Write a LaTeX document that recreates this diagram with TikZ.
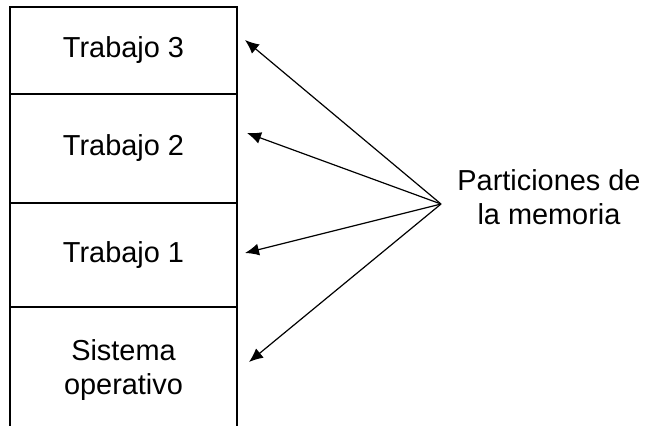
\documentclass[tikz,border=0pt]{standalone}
\usepackage{fontspec}
\setmainfont{Liberation Sans}
\usetikzlibrary{positioning,arrows.meta}

\begin{document}
\begin{tikzpicture}[
		x=0.5pt, y=-0.5pt,
		every node/.style={
			align=center,
			font=\fontsize{14.45}{17}\selectfont
		},
		particion/.style={
			draw, line width=1pt, rectangle,
			minimum width=113.5pt,
			inner sep=0pt, outer sep=0pt
		},
		flecha/.style={-{Latex[length=7pt,width=6pt]}, line width=0.6pt}
		]
		
		\useasboundingbox (0,0) rectangle (646,425);
		\clip (0,0) rectangle (646,425);
		
		% bloques de la memoria
		\node[particion, minimum height=43.5pt, anchor=north west] (trabajo3) at (10,7) {Trabajo 3};
		\node[particion, minimum height=54.5pt, below=0pt of trabajo3] (trabajo2) {Trabajo 2};
		\node[particion, minimum height=52pt, below=0pt of trabajo2] (trabajo1) {Trabajo 1};
		\node[particion, minimum height=63pt, below=0pt of trabajo1] (sistema) {Sistema\\operativo};
		
		\node (particiones) at (549,197) {Particiones de\\la memoria};
		
		\coordinate (origen) at (441,204);
		\coordinate (p3) at (245,40);
		\coordinate (p2) at (247,133);
		\coordinate (p1) at (245,253);
		\coordinate (p0) at (249,362);
		
		\foreach \p in {p3,p2,p1,p0}
			\draw[flecha] (origen) -- (\p);
	\end{tikzpicture}
\end{document}
